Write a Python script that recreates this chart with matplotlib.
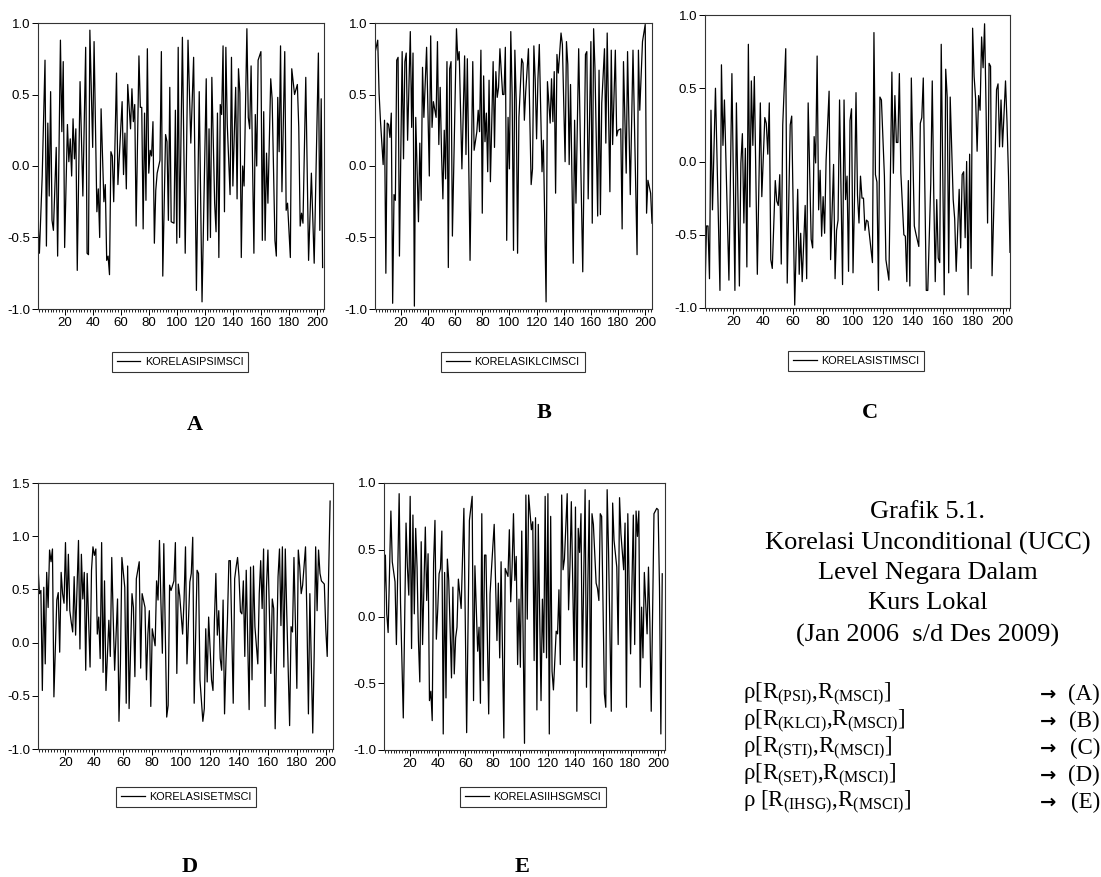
import numpy as np
import matplotlib
matplotlib.use("Agg")
import matplotlib.pyplot as plt

plt.rcParams['axes.unicode_minus'] = False
plt.rcParams['mathtext.fontset'] = 'custom'
plt.rcParams['mathtext.rm'] = 'Liberation Serif'
plt.rcParams['mathtext.it'] = 'Liberation Serif:italic'

SANS = ['Liberation Sans Narrow', 'Liberation Sans', 'DejaVu Sans']
SERIF = ['Liberation Serif', 'DejaVu Serif']

# korelasi PSI - MSCI (minggu ke-, nilai)
psi_obs = [1, 2, 4, 6, 7, 8, 9, 10, 11, 12, 14, 15, 17, 18, 19, 20, 22, 23, 24, 25,
           26, 27, 28, 29, 31, 33, 35, 36, 37, 38, 40, 41, 43, 44, 45, 46, 48, 49, 50, 51,
           52, 53, 54, 55, 57, 58, 61, 62, 63, 64, 65, 67, 68, 69, 70, 71, 73, 74, 75, 76,
           77, 78, 79, 80, 81, 82, 83, 84, 85, 86, 88, 89, 90, 92, 93, 94, 95, 96, 98, 99,
           100, 101, 102, 104, 106, 108, 110, 112, 114, 116, 118, 121, 122, 123, 124, 125, 127, 128, 129, 130,
           131, 132, 133, 134, 135, 136, 138, 139, 140, 141, 142, 143, 144, 145, 146, 147, 148, 150, 151, 152,
           153, 155, 156, 157, 158, 160, 161, 162, 163, 164, 165, 167, 168, 170, 171, 172, 173, 174, 175, 177,
           178, 179, 181, 182, 184, 186, 187, 188, 189, 190, 192, 194, 196, 198, 201, 202, 203, 204]
psi_val = [-0.37, -0.61, -0.07, 0.74, -0.56, 0.30, -0.21, 0.52, -0.38, -0.45, 0.13, -0.63, 0.88, 0.24, 0.73, -0.57, 0.29, 0.03, 0.19, -0.07,
           0.33, 0.05, 0.26, -0.73, 0.59, -0.21, 0.83, -0.61, -0.62, 0.95, 0.13, 0.87, -0.32, -0.16, -0.50, 0.40, -0.25, -0.13, -0.66, -0.63,
           -0.76, 0.10, 0.07, -0.25, 0.65, -0.13, 0.45, -0.06, 0.23, -0.16, 0.57, 0.26, 0.54, 0.31, 0.43, -0.42, 0.77, 0.41, 0.41, -0.44,
           0.37, -0.24, 0.82, -0.05, 0.11, 0.07, 0.31, -0.54, -0.17, -0.05, 0.04, 0.80, -0.77, 0.22, 0.17, -0.38, 0.55, -0.39, -0.40, 0.39,
           -0.54, 0.83, -0.50, 0.90, -0.61, 0.88, 0.16, 0.76, -0.87, 0.52, -0.95, 0.61, -0.52, 0.26, -0.50, 0.62, -0.26, -0.46, 0.37, -0.64,
           0.43, 0.36, 0.84, -0.32, 0.83, 0.29, -0.20, 0.76, -0.14, 0.22, 0.55, -0.23, 0.68, 0.51, -0.64, 0.00, -0.14, 0.96, 0.34, 0.26,
           0.70, -0.61, 0.36, 0.00, 0.74, 0.80, -0.52, 0.38, -0.52, 0.09, -0.26, 0.61, 0.47, -0.52, -0.63, 0.48, 0.10, 0.84, -0.18, 0.80,
           -0.31, -0.26, -0.64, 0.68, 0.50, 0.57, 0.27, -0.42, -0.33, -0.40, 0.62, -0.66, -0.05, -0.68, 0.79, -0.45, 0.47, -0.71]

# korelasi KLCI - MSCI
klci_obs = [1, 3, 4, 5, 7, 8, 9, 10, 11, 12, 13, 14, 15, 16, 17, 18, 19, 21, 22, 23,
            24, 25, 27, 28, 29, 30, 31, 33, 34, 35, 36, 37, 39, 41, 42, 43, 44, 46, 47, 48,
            49, 50, 51, 52, 53, 54, 55, 56, 57, 58, 61, 62, 63, 65, 67, 68, 69, 71, 73, 74,
            76, 77, 78, 79, 80, 81, 82, 83, 84, 85, 86, 88, 89, 90, 91, 92, 93, 95, 96, 97,
            98, 99, 100, 101, 102, 103, 104, 105, 106, 107, 109, 110, 111, 112, 114, 116, 117, 118, 119, 120,
            121, 122, 124, 125, 127, 128, 130, 131, 132, 133, 134, 135, 136, 138, 139, 141, 142, 143, 144, 145,
            147, 148, 149, 151, 154, 156, 157, 158, 160, 161, 162, 163, 165, 166, 167, 168, 170, 171, 172, 174,
            175, 176, 178, 179, 180, 182, 183, 184, 186, 187, 189, 191, 194, 195, 196, 198, 200, 201, 202, 204,
            205]
klci_val = [0.79, 0.88, 0.51, 0.32, 0.01, 0.32, -0.75, 0.30, 0.29, 0.20, 0.37, -0.96, -0.20, -0.24, 0.74, 0.76, -0.63, 0.80, 0.05, 0.73,
            0.79, 0.18, 0.94, 0.27, 0.79, -0.98, 0.34, -0.39, 0.16, -0.24, 0.69, 0.34, 0.83, -0.07, 0.91, 0.27, 0.45, 0.34, 0.87, 0.15,
            0.55, 0.09, -0.23, 0.25, -0.09, 0.73, -0.71, 0.68, 0.73, -0.49, 0.96, 0.74, 0.80, -0.02, 0.77, 0.08, 0.75, -0.66, 0.73, 0.11,
            0.24, 0.39, 0.24, 0.81, -0.33, 0.63, 0.17, 0.37, -0.04, 0.60, -0.11, 0.73, 0.13, 0.66, 0.48, 0.55, 0.82, 0.50, 0.50, 0.83,
            -0.52, 0.34, -0.02, 0.94, 0.50, -0.59, 0.81, 0.46, -0.61, 0.34, 0.75, 0.72, 0.32, 0.52, 0.82, -0.13, -0.02, 0.84, 0.60, 0.19,
            0.61, 0.85, -0.04, 0.18, -0.95, 0.59, 0.30, 0.61, 0.31, 0.66, -0.19, 0.78, 0.65, 0.93, 0.85, 0.03, 0.87, 0.71, 0.01, 0.57,
            -0.68, 0.32, -0.26, 0.82, -0.74, 0.78, 0.80, -0.23, 0.87, -0.40, 0.96, 0.68, -0.35, 0.67, -0.34, 0.44, 0.82, 0.16, 0.93, -0.18,
            0.81, 0.15, 0.81, 0.21, 0.25, 0.26, -0.44, 0.73, -0.05, 0.80, -0.20, 0.81, -0.62, 0.81, 0.39, 0.87, 0.99, -0.33, -0.10, -0.19,
            -0.40]

# korelasi STI - MSCI
sti_obs = [1, 2, 3, 4, 5, 6, 8, 11, 12, 13, 14, 17, 19, 21, 22, 24, 25, 26, 27, 28,
           29, 30, 31, 32, 33, 34, 36, 38, 39, 41, 42, 43, 44, 45, 46, 48, 49, 50, 51, 52,
           53, 55, 56, 58, 59, 61, 63, 64, 65, 66, 68, 69, 70, 72, 73, 74, 75, 76, 77, 78,
           79, 80, 81, 82, 84, 85, 87, 88, 89, 90, 91, 93, 94, 95, 96, 97, 98, 99, 100, 101,
           102, 103, 104, 105, 106, 107, 108, 109, 110, 112, 113, 114, 115, 116, 117, 118, 119, 121, 122, 124,
           126, 127, 128, 129, 130, 131, 132, 134, 135, 136, 137, 138, 139, 141, 142, 144, 145, 146, 147, 149,
           150, 152, 153, 154, 155, 156, 157, 158, 159, 161, 162, 163, 164, 165, 167, 168, 169, 171, 172, 173,
           174, 175, 176, 177, 178, 179, 180, 181, 182, 183, 184, 185, 186, 187, 188, 189, 190, 191, 192, 193,
           195, 196, 197, 198, 199, 200, 202, 203, 204, 205]
sti_val = [-0.90, -0.44, -0.44, -0.80, 0.35, -0.33, 0.50, -0.88, 0.66, 0.11, 0.42, -0.81, 0.60, -0.88, 0.40, -0.85, -0.01, 0.19, -0.42, 0.09,
           -0.72, 0.80, -0.31, 0.55, 0.11, 0.58, -0.77, 0.40, -0.24, 0.30, 0.26, 0.05, 0.40, -0.67, -0.73, -0.13, -0.27, -0.30, -0.09, -0.70,
           0.25, 0.77, -0.83, 0.25, 0.31, -0.98, -0.19, -0.77, -0.49, -0.82, -0.30, -0.80, 0.40, -0.53, -0.59, 0.17, -0.01, 0.72, -0.33, -0.06,
           -0.51, -0.24, -0.49, 0.01, 0.48, -0.67, -0.02, -0.80, -0.47, -0.40, 0.42, -0.84, 0.42, -0.26, -0.10, -0.75, 0.28, 0.36, -0.76, -0.25,
           0.47, -0.23, -0.42, -0.10, -0.25, -0.25, -0.47, -0.40, -0.41, -0.60, -0.69, 0.88, -0.09, -0.14, -0.88, 0.44, 0.42, -0.10, -0.67, -0.81,
           0.61, -0.08, 0.45, 0.13, 0.13, 0.60, -0.08, -0.50, -0.51, -0.82, -0.13, -0.85, 0.57, -0.44, -0.49, -0.58, 0.26, 0.30, 0.57, -0.88,
           -0.88, -0.15, 0.55, -0.22, -0.82, -0.26, -0.66, -0.69, 0.80, -0.91, 0.63, 0.44, -0.76, 0.44, -0.26, -0.39, -0.75, -0.19, -0.59, -0.09,
           -0.07, -0.52, 0.00, -0.91, 0.05, -0.73, 0.91, 0.58, 0.43, 0.07, 0.45, 0.35, 0.85, 0.64, 0.94, 0.36, -0.42, 0.67, 0.65, -0.78,
           0.01, 0.49, 0.53, 0.10, 0.42, 0.10, 0.55, 0.27, -0.10, -0.62]

# korelasi SET - MSCI
set_obs = [1, 2, 3, 4, 5, 6, 7, 8, 9, 10,
           11, 12, 14, 15, 16, 17, 18, 19, 20, 21,
           22, 23, 24, 25, 26, 27, 29, 30, 31, 32,
           33, 34, 35, 37, 38, 39, 40, 41, 42, 43,
           44, 45, 46, 47, 48, 50, 51, 52, 53, 54,
           56, 57, 58, 59, 61, 62, 63, 64, 66, 67,
           68, 69, 71, 72, 73, 75, 76, 77, 78, 79,
           80, 82, 83, 84, 85, 86, 87, 88, 90, 91,
           92, 93, 95, 96, 97, 98, 99, 101, 102, 103,
           104, 106, 107, 108, 109, 111, 112, 113, 115, 116,
           117, 118, 119, 121, 122, 123, 124, 125, 126, 127,
           128, 129, 130, 131, 132, 133, 134, 136, 137, 138,
           139, 140, 141, 142, 143, 144, 145, 147, 148, 149,
           150, 151, 153, 154, 155, 156, 157, 158, 159, 160,
           162, 163, 164, 165, 167, 168, 169, 170, 171, 172,
           173, 175, 176, 177, 178, 180, 181, 182, 183, 184,
           186, 187, 188, 189, 191, 192, 193, 194, 195, 196,
           197, 199, 200, 201, 202, 203]
set_val = [0.72, 0.46, 0.49, -0.45, 0.52, -0.20, 0.66, 0.33, 0.87, 0.76,
           0.88, -0.51, 0.40, 0.47, -0.09, 0.66, 0.46, 0.37, 0.94, 0.30,
           0.83, 0.30, 0.19, 0.10, 0.62, 0.07, 0.96, -0.06, 0.83, 0.41,
           0.66, -0.26, 0.65, -0.23, 0.68, 0.90, 0.82, 0.88, 0.08, 0.24,
           -0.15, 0.94, -0.28, 0.58, -0.45, 0.21, -0.13, 0.80, 0.24, -0.26,
           0.41, -0.74, -0.20, 0.80, 0.52, -0.57, 0.72, -0.62, 0.46, 0.33,
           -0.32, 0.60, 0.76, -0.24, 0.46, 0.33, -0.35, 0.08, 0.30, -0.60,
           0.13, -0.03, 0.58, 0.40, 0.96, 0.38, -0.10, 0.93, -0.70, -0.59,
           0.54, 0.49, 0.58, 0.94, -0.29, 0.55, 0.44, 0.08, 0.40, 0.90,
           -0.20, 0.57, 0.65, 0.99, -0.57, 0.68, 0.65, -0.35, -0.74, -0.62,
           0.13, -0.37, 0.24, -0.35, -0.45, 0.21, 0.65, 0.07, 0.30, -0.15,
           -0.26, 0.40, -0.67, -0.17, 0.21, 0.77, 0.77, -0.57, 0.60, 0.71,
           0.80, 0.62, 0.29, 0.27, 0.58, -0.13, 0.68, -0.63, 0.71, -0.35,
           0.72, 0.15, -0.20, 0.46, 0.77, 0.32, 0.88, -0.60, 0.52, 0.87,
           -0.29, 0.41, 0.32, -0.81, 0.62, 0.88, 0.16, 0.90, -0.23, 0.88,
           0.29, -0.78, 0.15, 0.10, 0.80, -0.43, 0.87, 0.71, 0.46, 0.54,
           0.90, 0.21, -0.67, 0.46, -0.85, -0.10, 0.90, 0.30, 0.87, 0.65,
           0.58, 0.55, 0.13, -0.13, 0.65, 1.33]

# korelasi IHSG - MSCI
ihsg_obs = [1, 2, 3, 4, 6, 7, 9, 10, 12, 13, 15, 17, 18, 19, 20, 21, 22, 23, 24, 25,
            26, 27, 28, 29, 31, 32, 33, 34, 35, 36, 37, 38, 39, 40, 41, 42, 43, 44, 45, 46,
            47, 48, 50, 51, 52, 53, 54, 55, 57, 59, 61, 63, 65, 66, 67, 69, 70, 71, 72, 73,
            74, 75, 77, 78, 79, 81, 83, 84, 85, 86, 88, 89, 91, 92, 93, 94, 95, 96, 97, 98,
            99, 100, 101, 103, 104, 105, 106, 108, 109, 110, 111, 112, 113, 115, 116, 117, 118, 119, 120, 121,
            122, 123, 124, 126, 127, 128, 129, 130, 131, 132, 134, 135, 136, 137, 139, 140, 141, 142, 143, 144,
            145, 147, 148, 149, 150, 151, 152, 153, 155, 156, 157, 158, 159, 161, 162, 163, 164, 166, 167, 168,
            170, 171, 172, 173, 175, 176, 177, 178, 179, 180, 182, 183, 184, 185, 186, 187, 188, 189, 190, 192,
            193, 194, 195, 197, 199, 200, 201, 202, 203]
ihsg_val = [0.07, 0.46, 0.02, -0.12, 0.79, 0.41, 0.26, -0.21, 0.92, 0.10, -0.76, 0.70, 0.37, 0.16, 0.90, -0.24, 0.76, 0.02, 0.66, 0.37,
            -0.18, -0.49, 0.56, -0.21, 0.67, 0.12, 0.47, -0.63, -0.56, -0.78, 0.40, 0.72, -0.17, 0.05, 0.32, 0.36, 0.64, -0.88, 0.33, -0.61,
            0.43, 0.27, -0.46, 0.22, -0.43, -0.16, -0.08, 0.28, 0.06, 0.81, -0.87, 0.72, 0.90, -0.63, 0.38, -0.26, -0.08, -0.65, 0.77, -0.48,
            0.46, 0.46, -0.73, 0.17, 0.35, 0.69, -0.18, 0.25, -0.31, 0.41, -0.91, 0.36, 0.30, 0.65, 0.11, 0.37, 0.77, 0.27, 0.45, -0.36,
            0.13, -0.38, 0.64, -0.95, 0.91, -0.02, 0.91, 0.65, 0.71, -0.33, 0.74, -0.70, 0.69, -0.63, 0.13, -0.27, 0.90, -0.31, 0.92, -0.88,
            0.75, -0.41, -0.55, -0.11, -0.13, 0.20, -0.36, 0.91, 0.35, 0.43, 0.92, 0.05, 0.38, 0.86, -0.33, 0.82, -0.71, 0.66, 0.48, 0.77,
            -0.38, 0.95, -0.53, 0.25, 0.87, -0.80, 0.77, 0.69, 0.25, 0.21, 0.12, 0.77, 0.75, -0.58, -0.68, 0.95, 0.50, -0.71, 0.85, 0.57,
            0.37, -0.21, 0.89, 0.62, 0.35, 0.70, -0.68, 0.77, 0.22, -0.28, 0.76, -0.21, 0.79, 0.60, 0.79, -0.53, 0.07, -0.31, 0.33, -0.13,
            0.37, -0.04, -0.71, 0.77, 0.81, 0.80, 0.22, -0.88, 0.32]

W, H = 1101, 877
fig = plt.figure(figsize=(W / 100, H / 100), dpi=100)


def box(x0, y0, x1, y1):
    return [x0 / W, 1 - y1 / H, (x1 - x0) / W, (y1 - y0) / H]


def panel(rect, obs, val, ymin, ymax, name, leg_center, letter, letter_xy):
    ax = fig.add_axes(box(*rect))
    ax.plot(obs, val, color='black', lw=0.9)
    ax.set_xlim(1, 205)
    ax.set_ylim(ymin, ymax)
    yt = np.arange(ymin, ymax + 0.01, 0.5)
    ax.set_yticks(yt)
    ax.set_yticklabels(['%.1f' % t for t in yt])
    ax.set_xticks(range(20, 201, 20))
    ax.set_xticks(range(2, 205, 2), minor=True)
    ax.tick_params(axis='both', which='major', direction='out', length=4, width=0.7,
                   labelsize=9.5, pad=1.5)
    ax.tick_params(axis='x', which='minor', direction='out', length=2.5, width=0.6)
    ax.tick_params(axis='y', which='minor', left=False)
    for lab in ax.get_xticklabels() + ax.get_yticklabels():
        lab.set_family(SANS)
    for s in ax.spines.values():
        s.set_linewidth(0.8)
        s.set_color('#333333')
    leg = ax.legend([name], loc='center', bbox_to_anchor=(leg_center[0] / W, 1 - leg_center[1] / H),
                    bbox_transform=fig.transFigure, frameon=True, fancybox=False,
                    handlelength=2.2, handletextpad=0.4, borderpad=0.45,
                    prop={'family': SANS, 'size': 7.8})
    leg.get_frame().set_edgecolor('black')
    leg.get_frame().set_linewidth(0.8)
    fig.text(letter_xy[0] / W, 1 - letter_xy[1] / H, letter, family=SERIF,
             fontweight='bold', fontsize=16, ha='center', va='center')
    return ax


panel((38, 23, 324, 309), psi_obs, psi_val, -1.0, 1.0, 'KORELASIPSIMSCI', (180, 362), 'A', (195, 425))
panel((375, 23, 652, 309), klci_obs, klci_val, -1.0, 1.0, 'KORELASIKLCIMSCI', (513, 362), 'B', (544, 413))
panel((705, 15, 1010, 308), sti_obs, sti_val, -1.0, 1.0, 'KORELASISTIMSCI', (856, 361), 'C', (870, 413))
panel((38, 483, 333, 749), set_obs, set_val, -1.0, 1.5, 'KORELASISETMSCI', (186, 797), 'D', (190, 867))
panel((384, 483, 665, 750), ihsg_obs, ihsg_val, -1.0, 1.0, 'KORELASIIHSGMSCI', (533, 797), 'E', (522, 867))

# keterangan grafik
judul = ['Grafik 5.1.', 'Korelasi Unconditional (UCC)', 'Level Negara Dalam', 'Kurs Lokal',
         '(Jan 2006  s/d Des 2009)']
judul_y = [512, 543, 573, 603, 635]
for t, y in zip(judul, judul_y):
    fig.text(928 / W, 1 - y / H, t, family=SERIF, fontsize=19, ha='center', va='center')

rho = [r'ρ[R$_{\mathrm{(PSI)}}$,R$_{\mathrm{(MSCI)}}$]',
       r'ρ[R$_{\mathrm{(KLCI)}}$,R$_{\mathrm{(MSCI)}}$]',
       r'ρ[R$_{\mathrm{(STI)}}$,R$_{\mathrm{(MSCI)}}$]',
       r'ρ[R$_{\mathrm{(SET)}}$,R$_{\mathrm{(MSCI)}}$]',
       r'ρ [R$_{\mathrm{(IHSG)}}$,R$_{\mathrm{(MSCI)}}$]']
kode = ['(A)', '(B)', '(C)', '(D)', '(E)']
for i, (r, k) in enumerate(zip(rho, kode)):
    y = 1 - (694 + i * 27) / H
    fig.text(743 / W, y, r, family=SERIF, fontsize=16.5, ha='left', va='center')
    fig.text(1056 / W, y, '→', family='DejaVu Sans', fontweight='bold', fontsize=14,
             ha='right', va='center')
    fig.text(1100 / W, y, k, family=SERIF, fontsize=16.5, ha='right', va='center')

fig.savefig('out.png', dpi=100)
